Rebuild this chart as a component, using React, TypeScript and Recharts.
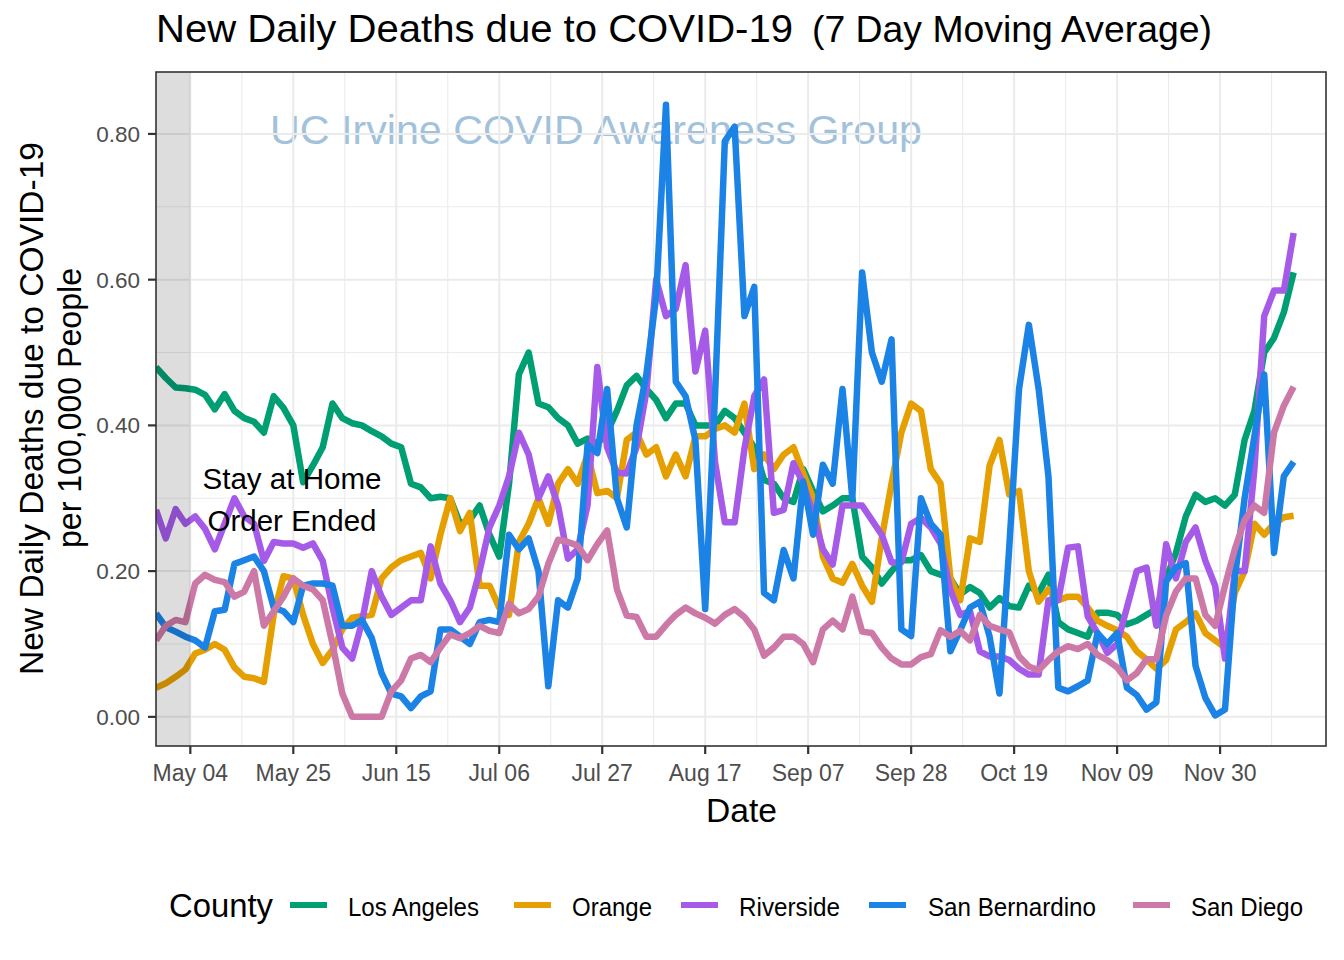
import React from 'react';
import { LineChart, Line, XAxis, YAxis, CartesianGrid, ReferenceArea } from 'recharts';

// one value every 2 days, starting Apr 27 (day 0) and ending Dec 15 (day 232)
const LOS_ANGELES = [
  0.48, 0.465, 0.452, 0.451, 0.449, 0.442, 0.422, 0.443, 0.42, 0.41, 0.405, 0.39, 0.44, 0.424, 0.4, 0.322, 0.345, 0.37, 0.43, 0.41, 0.403,
  0.4, 0.392, 0.385, 0.375, 0.37, 0.32, 0.315, 0.3, 0.302, 0.3, 0.265, 0.27, 0.29, 0.25, 0.22, 0.32, 0.47, 0.5, 0.43, 0.425, 0.41,
  0.4, 0.375, 0.382, 0.375, 0.39, 0.42, 0.455, 0.468, 0.45, 0.435, 0.41, 0.43, 0.43, 0.4, 0.4, 0.4, 0.42, 0.41, 0.39,
  0.37, 0.325, 0.32, 0.3, 0.295, 0.34, 0.31, 0.282, 0.29, 0.3, 0.3, 0.22, 0.205, 0.183, 0.2, 0.215, 0.215, 0.222, 0.2,
  0.195, 0.19, 0.168, 0.178, 0.17, 0.15, 0.163, 0.152, 0.15, 0.18, 0.17, 0.195, 0.13, 0.12, 0.115, 0.11, 0.143, 0.143, 0.14, 0.127,
  0.132, 0.14, 0.148, 0.19, 0.225, 0.275, 0.305, 0.295, 0.3, 0.29, 0.305, 0.38, 0.42, 0.5, 0.52, 0.555, 0.61,
];
const ORANGE = [
  0.04, 0.046, 0.055, 0.065, 0.087, 0.092, 0.1, 0.092, 0.068, 0.055, 0.053, 0.048, 0.14, 0.193, 0.19, 0.14, 0.1, 0.074, 0.092, 0.12, 0.136,
  0.138, 0.14, 0.19, 0.205, 0.215, 0.22, 0.225, 0.19, 0.25, 0.3, 0.255, 0.28, 0.18, 0.18, 0.15, 0.14, 0.24, 0.265, 0.3, 0.265, 0.32,
  0.34, 0.32, 0.36, 0.307, 0.31, 0.3, 0.38, 0.39, 0.36, 0.37, 0.33, 0.36, 0.33, 0.385, 0.385, 0.395, 0.4, 0.39, 0.43,
  0.34, 0.36, 0.34, 0.36, 0.37, 0.334, 0.3, 0.22, 0.19, 0.184, 0.21, 0.18, 0.158, 0.245, 0.32, 0.39, 0.43, 0.42, 0.34,
  0.32, 0.19, 0.16, 0.245, 0.24, 0.345, 0.38, 0.305, 0.31, 0.2, 0.158, 0.175, 0.16, 0.165, 0.165, 0.15, 0.132, 0.125, 0.119, 0.11,
  0.09, 0.079, 0.066, 0.078, 0.12, 0.13, 0.142, 0.115, 0.105, 0.095, 0.17, 0.2, 0.265, 0.25, 0.265, 0.274, 0.276,
];
const RIVERSIDE = [
  0.284, 0.245, 0.285, 0.265, 0.275, 0.258, 0.23, 0.265, 0.3, 0.275, 0.265, 0.214, 0.24, 0.238, 0.238, 0.232, 0.238, 0.214, 0.15, 0.095, 0.08,
  0.13, 0.2, 0.165, 0.14, 0.15, 0.16, 0.16, 0.234, 0.183, 0.16, 0.13, 0.15, 0.2, 0.26, 0.29, 0.33, 0.39, 0.36, 0.3, 0.33, 0.29,
  0.217, 0.23, 0.29, 0.48, 0.37, 0.335, 0.334, 0.37, 0.446, 0.6, 0.55, 0.56, 0.62, 0.474, 0.53, 0.35, 0.267, 0.267, 0.368,
  0.44, 0.463, 0.28, 0.284, 0.348, 0.32, 0.279, 0.23, 0.209, 0.29, 0.29, 0.29, 0.27, 0.25, 0.212, 0.212, 0.265, 0.273, 0.26,
  0.238, 0.174, 0.14, 0.145, 0.09, 0.083, 0.083, 0.078, 0.066, 0.058, 0.058, 0.16, 0.16, 0.232, 0.234, 0.138, 0.115, 0.088, 0.1, 0.15,
  0.2, 0.205, 0.125, 0.237, 0.19, 0.24, 0.26, 0.214, 0.18, 0.08, 0.2, 0.2, 0.34, 0.55, 0.585, 0.585, 0.664,
];
const SAN_BERNARDINO = [
  0.142, 0.123, 0.117, 0.11, 0.105, 0.095, 0.145, 0.147, 0.21, 0.215, 0.22, 0.2, 0.15, 0.145, 0.13, 0.18, 0.183, 0.183, 0.18, 0.125, 0.125,
  0.133, 0.108, 0.06, 0.032, 0.028, 0.012, 0.028, 0.035, 0.12, 0.12, 0.11, 0.1, 0.13, 0.133, 0.13, 0.25, 0.23, 0.245, 0.2, 0.042, 0.16,
  0.15, 0.19, 0.373, 0.362, 0.45, 0.3, 0.26, 0.4, 0.47, 0.577, 0.84, 0.46, 0.44, 0.38, 0.148, 0.44, 0.79, 0.81, 0.55,
  0.59, 0.17, 0.16, 0.229, 0.19, 0.323, 0.25, 0.346, 0.32, 0.45, 0.3, 0.61, 0.5, 0.46, 0.518, 0.12, 0.111, 0.3, 0.265,
  0.25, 0.09, 0.119, 0.15, 0.158, 0.11, 0.032, 0.232, 0.45, 0.538, 0.45, 0.33, 0.04, 0.035, 0.042, 0.05, 0.115, 0.1, 0.115, 0.04,
  0.03, 0.01, 0.02, 0.186, 0.205, 0.211, 0.07, 0.026, 0.002, 0.01, 0.19, 0.3, 0.385, 0.47, 0.225, 0.33, 0.35,
];
const SAN_DIEGO = [
  0.105, 0.125, 0.133, 0.13, 0.183, 0.195, 0.188, 0.185, 0.165, 0.172, 0.2, 0.125, 0.145, 0.165, 0.19, 0.18, 0.175, 0.16, 0.1, 0.032, 0,
  0, 0, 0, 0.035, 0.05, 0.08, 0.085, 0.075, 0.095, 0.113, 0.108, 0.115, 0.125, 0.118, 0.115, 0.155, 0.142, 0.148, 0.165, 0.21, 0.243,
  0.24, 0.235, 0.215, 0.237, 0.256, 0.175, 0.139, 0.137, 0.11, 0.11, 0.126, 0.14, 0.15, 0.142, 0.136, 0.128, 0.14, 0.148, 0.137,
  0.12, 0.084, 0.095, 0.11, 0.11, 0.1, 0.075, 0.12, 0.132, 0.12, 0.165, 0.117, 0.115, 0.095, 0.08, 0.072, 0.072, 0.082, 0.086,
  0.119, 0.11, 0.118, 0.105, 0.14, 0.125, 0.12, 0.116, 0.083, 0.069, 0.064, 0.078, 0.09, 0.097, 0.093, 0.1, 0.085, 0.078, 0.068, 0.05,
  0.06, 0.079, 0.079, 0.139, 0.172, 0.19, 0.19, 0.14, 0.125, 0.18, 0.23, 0.27, 0.29, 0.28, 0.39, 0.427, 0.453,
];

const TICK_DAYS = [7, 28, 49, 70, 91, 112, 133, 154, 175, 196, 217];
const TICK_LABELS = ['May 04', 'May 25', 'Jun 15', 'Jul 06', 'Jul 27', 'Aug 17', 'Sep 07', 'Sep 28', 'Oct 19', 'Nov 09', 'Nov 30'];
const MINOR_DAYS = [17.5, 38.5, 59.5, 80.5, 101.5, 122.5, 143.5, 164.5, 185.5, 206.5, 227.5];
const Y_TICKS = [0, 0.2, 0.4, 0.6, 0.8];
const Y_MINOR = [0.1, 0.3, 0.5, 0.7];

const SERIES = [
  { key: 'la', name: 'Los Angeles', color: '#009E73', values: LOS_ANGELES },
  { key: 'orange', name: 'Orange', color: '#E69F00', values: ORANGE },
  { key: 'riverside', name: 'Riverside', color: '#A65BE8', values: RIVERSIDE },
  { key: 'sb', name: 'San Bernardino', color: '#1B82E6', values: SAN_BERNARDINO },
  { key: 'sd', name: 'San Diego', color: '#CC79A7', values: SAN_DIEGO },
];

const rows = LOS_ANGELES.map((_, i) => {
  const row: Record<string, number> = { day: i * 2 };
  SERIES.forEach(s => { row[s.key] = s.values[i]; });
  return row;
});

const FONT = '"Liberation Sans", Arial, Helvetica, sans-serif';

// legend layout in px: key start, label start, label width
const LEGEND_POS = [
  { key: 290, label: 348, w: 131 },
  { key: 514, label: 572, w: 80 },
  { key: 681, label: 739, w: 101 },
  { key: 869, label: 928, w: 168 },
  { key: 1133, label: 1191, w: 112 },
];

const App: React.FC = () => {
  const labelFor = (d: number) => TICK_LABELS[TICK_DAYS.indexOf(d)] ?? '';

  return (
    <div style={{ position: 'absolute', left: 0, top: 0, width: 1344, height: 960, background: '#fff', fontFamily: FONT }}>
      <svg width={1344} height={960} style={{ position: 'absolute', left: 0, top: 0 }}>
        <text x={270} y={144} fontSize={41} fill="#A2C2DB" fontFamily={FONT} textLength={652} lengthAdjust="spacingAndGlyphs">
          UC Irvine COVID Awareness Group
        </text>
      </svg>
      <div style={{ position: 'absolute', left: 0, top: 0 }}>
        <LineChart width={1344} height={960} data={rows} margin={{ top: 72, right: 18, bottom: 154, left: 0 }}>
          <CartesianGrid stroke="#EBEBEB" strokeWidth={1.1} horizontalValues={Y_MINOR} verticalValues={MINOR_DAYS} />
          <CartesianGrid stroke="#EBEBEB" strokeWidth={2} horizontalValues={Y_TICKS} verticalValues={TICK_DAYS} />
          <XAxis
            dataKey="day"
            type="number"
            domain={[0, 238.6]}
            allowDataOverflow
            ticks={TICK_DAYS}
            interval={0}
            tickFormatter={labelFor}
            height={60}
            axisLine={false}
            tickLine={{ stroke: '#333333', strokeWidth: 2.2 }}
            tickSize={8}
            tickMargin={11}
            tick={{ fill: '#4D4D4D', fontSize: 23, fontFamily: FONT }}
          />
          <YAxis
            type="number"
            domain={[-0.04, 0.885]}
            allowDataOverflow
            ticks={Y_TICKS}
            interval={0}
            tickFormatter={(v: number) => v.toFixed(2)}
            width={156}
            axisLine={false}
            tickLine={{ stroke: '#333333', strokeWidth: 2.2 }}
            tickSize={8}
            tickMargin={8}
            tick={{ fill: '#4D4D4D', fontSize: 22.5, fontFamily: FONT }}
          />
          {SERIES.map(s => (
            <Line
              key={s.key}
              dataKey={s.key}
              name={s.name}
              type="linear"
              stroke={s.color}
              strokeWidth={6.5}
              strokeLinejoin="round"
              dot={false}
              activeDot={false}
              isAnimationActive={false}
            />
          ))}
          <ReferenceArea x1={0} x2={7} fill="#000000" fillOpacity={0.135} stroke="none" zIndex={2000} />
        </LineChart>
      </div>
      <svg width={1344} height={960} style={{ position: 'absolute', left: 0, top: 0, pointerEvents: 'none' }} fontFamily={FONT}>
        <rect x={156} y={72} width={1170} height={674} fill="none" stroke="#333333" strokeWidth={1.6} />
        <text x={156} y={42} fontSize={38.5} fill="#000" textLength={637} lengthAdjust="spacingAndGlyphs">
          New Daily Deaths due to COVID-19
        </text>
        <text x={812} y={42} fontSize={37} fill="#000" textLength={400} lengthAdjust="spacingAndGlyphs">
          (7 Day Moving Average)
        </text>
        <text transform="translate(42.5,408.5) rotate(-90)" textAnchor="middle" fontSize={34} fill="#000" textLength={533} lengthAdjust="spacingAndGlyphs">
          New Daily Deaths due to COVID-19
        </text>
        <text transform="translate(81,408) rotate(-90)" textAnchor="middle" fontSize={33} fill="#000" textLength={280} lengthAdjust="spacingAndGlyphs">
          per 100,000 People
        </text>
        <text x={741.5} y={822} textAnchor="middle" fontSize={34} fill="#000" textLength={71} lengthAdjust="spacingAndGlyphs">
          Date
        </text>
        <text x={292} y={488.5} textAnchor="middle" fontSize={29.5} fill="#000" textLength={179} lengthAdjust="spacingAndGlyphs">
          Stay at Home
        </text>
        <text x={292} y={530.5} textAnchor="middle" fontSize={29.5} fill="#000" textLength={169} lengthAdjust="spacingAndGlyphs">
          Order Ended
        </text>
        <text x={169} y={917} fontSize={34} fill="#000" textLength={104} lengthAdjust="spacingAndGlyphs">
          County
        </text>
        {SERIES.map((s, i) => (
          <g key={s.key}>
            <line x1={LEGEND_POS[i].key} x2={LEGEND_POS[i].key + 37} y1={905} y2={905} stroke={s.color} strokeWidth={6} />
            <text x={LEGEND_POS[i].label} y={915.5} fontSize={25} fill="#000" textLength={LEGEND_POS[i].w} lengthAdjust="spacingAndGlyphs">
              {s.name}
            </text>
          </g>
        ))}
      </svg>
    </div>
  );
};

export default App;
